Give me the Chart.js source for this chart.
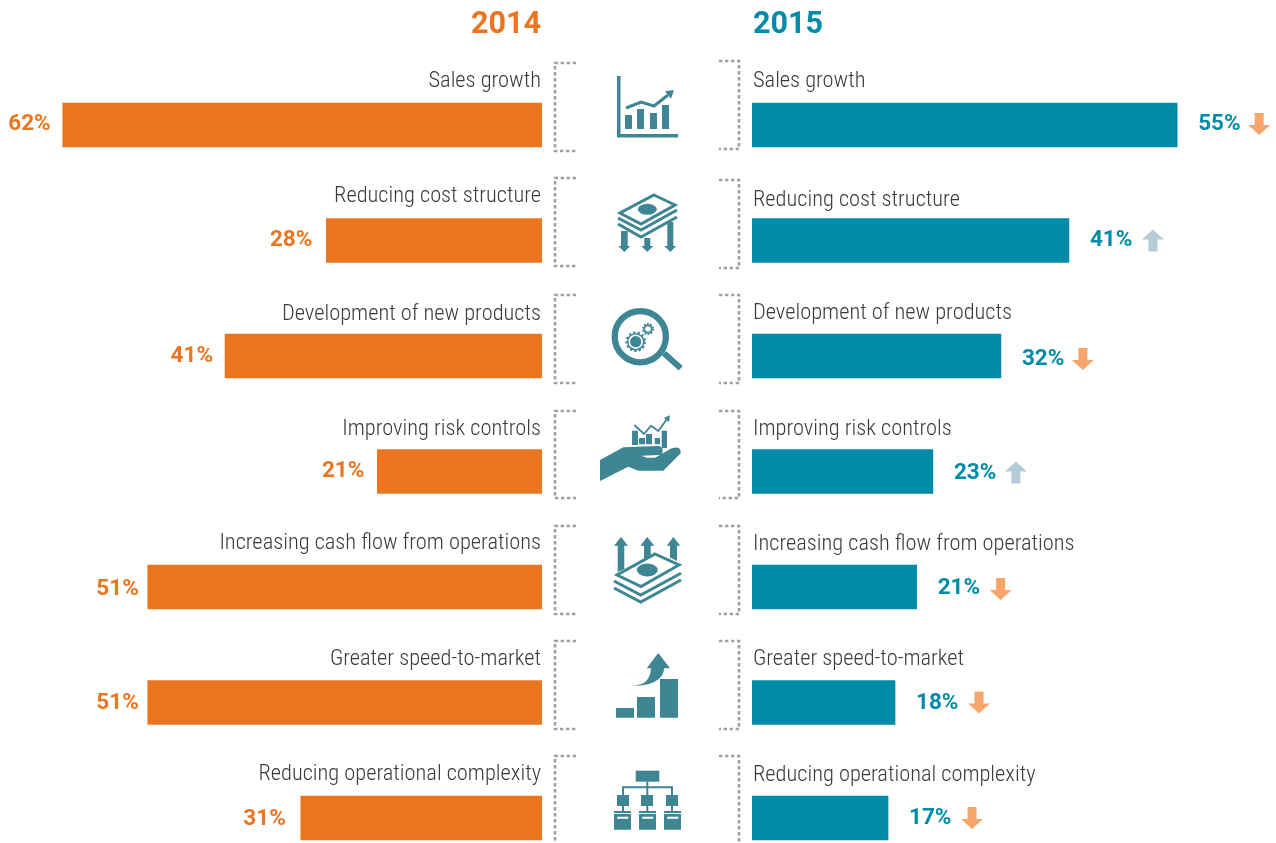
<!DOCTYPE html>
<html>
<head>
<meta charset="utf-8">
<title>Priorities 2014 vs 2015</title>
<script src="https://cdn.jsdelivr.net/npm/chart.js@4/dist/chart.umd.min.js"></script>
<style>
  html, body { margin: 0; padding: 0; background: #fff; overflow: hidden; }
  #page { position: relative; width: 1276px; height: 843px; overflow: hidden; }
  canvas { position: absolute; top: 0; }
  #chart2014 { left: 0; }
  #chart2015 { left: 752px; }
  #icons { position: absolute; left: 0; top: 0; }
  #icons .teal { fill: #3e8694; }
  #icons .line { fill: none; stroke: #3e8694; }
  #icons .white { fill: #fff; }
  #icons .bracket { fill: none; stroke: #a0a0a0; stroke-width: 2.6; stroke-dasharray: 3.4 2.6; }
</style>
</head>
<body>
<div id="page">
  <canvas id="chart2014" width="542" height="843"></canvas>
  <canvas id="chart2015" width="524" height="843"></canvas>

  <svg id="icons" width="1276" height="843" viewBox="0 0 1276 843">
    <!-- dotted brackets -->
    <path class="bracket" d="M576 63H555V151H576M719 61H739V149H719"/>
    <path class="bracket" d="M576 178H555V266H576M719 180H739V268H719"/>
    <path class="bracket" d="M576 295H555V383H576M719 295H739V383H719"/>
    <path class="bracket" d="M576 411H555V498H576M719 411H739V498H719"/>
    <path class="bracket" d="M576 526H555V614H576M719 526H739V614H719"/>
    <path class="bracket" d="M576 641H555V729H576M719 641H739V729H719"/>
    <path class="bracket" d="M576 756H555V860M719 756H739V860"/>

    <!-- sales growth -->
    <path class="teal" d="M617 76h3.5v58H678v3.4H617z"/>
    <path class="teal" d="M625 115h7v14h-7zM637 109h7v20h-7zM650 113h7v16h-7zM662 105h7v24h-7z"/>
    <path class="line" stroke-width="3" d="M626 108L641 102L654 106L668 95"/>
    <path class="teal" d="M674 90L665 91.3L671 98.7z"/>

    <!-- reducing cost -->
    <path class="line" stroke-width="3" d="M654 195L675 205L641 224L620 213z"/>
    <ellipse class="teal" cx="647.3" cy="209.3" rx="9.5" ry="5.5"/>
    <path class="line" stroke-width="3" d="M618 218L641 230L677 210M618 224L641 237L677 217"/>
    <path class="teal" d="M621 231h6.7v15h2.6l-6 6l-6-6h2.7zM644.3 238h6v8h3l-6 6l-6-6h3zM667.3 222h6v24h3l-6 6l-6-6h3z"/>

    <!-- new products -->
    <circle class="line" cx="640.3" cy="336.7" r="25.6" stroke-width="6.3"/>
    <path class="line" stroke-width="6" d="M664 353.3L680.7 368.3"/>
    <circle class="teal" cx="635.7" cy="341.7" r="5.6"/>
    <circle class="line" cx="635.7" cy="341.7" r="8" stroke-width="1.6"/>
    <circle class="line" cx="635.7" cy="341.7" r="9.4" stroke-width="1.8" stroke-dasharray="2.4 2.2"/>
    <circle class="line" cx="648" cy="329" r="3.8" stroke-width="2"/>
    <circle class="line" cx="648" cy="329" r="5.4" stroke-width="1.4" stroke-dasharray="1.8 1.6"/>

    <!-- risk controls -->
    <path class="teal" d="M600 460L623.3 447.3L657.3 446Q662.7 446 662.7 450.5Q662.7 455 658.3 455L641.7 455.7L646.7 457.7L655 457.7L671.7 448.3L677 447.5Q681 448 680.7 453.3L663.3 470.7L638.3 470.7L628.3 466.7L600 481z"/>
    <path class="teal" d="M632 430.7h6V445h-6zM639 438h6v6.3h-6zM646 434h6v10.3h-6zM654.7 438h5.3v6.3h-5.3zM661.7 430.7h5.3V448h-5.3z"/>
    <path class="line" stroke-width="1.8" d="M634.3 425L644 434L651 425.7L658.3 431L667 419"/>
    <path class="teal" d="M670 415.3L664 417.7L669 422.3z"/>

    <!-- cash flow -->
    <path class="teal" d="M621 537l7 8.7h-3.7V569l-6.6 3V545.7H614zM647.3 537l7 8.7h-3.6V556l-6.7 2.5V545.7h-3.7zM673.3 537l7 8.7H677V561l-7-3.5V545.7h-3.3z"/>
    <path class="line" stroke-width="3" d="M655 554L679 565L641 586.5L617 575z"/>
    <ellipse class="teal" cx="647.3" cy="570" rx="10.5" ry="6.5"/>
    <path class="line" stroke-width="3" d="M614 581L640.7 595L681 573.3M614 588L640.7 602L681 580"/>

    <!-- speed to market -->
    <path class="teal" d="M616 708h18v9.7h-18zM637 697h18v20.7h-18zM660 679h18v38.7h-18z"/>
    <path class="teal" d="M658.3 653L670 668.3H664C664 680 650 687 629.3 685.7C645 686 650 680 651 668.3H646.7z"/>

    <!-- operational complexity -->
    <path class="teal" d="M635.7 770.7h23.6v11h-23.6z"/>
    <path class="line" stroke-width="2" d="M647.3 781.7V787.3M623 795V787.3H672V795M647.3 787.3V795M623 806V811M647.3 806V811M672 806V811"/>
    <path class="teal" d="M617 795h12v11h-12zM641 795h12v11h-12zM666 795h12v11h-12z"/>
    <path class="teal" d="M614 811h17v18.7h-17zM639 811h17v18.7h-17zM664 811h17v18.7h-17z"/>
    <path class="white" d="M614 813h17v1h-17zM639 813h17v1h-17zM664 813h17v1h-17zM617.3 816.7h11v2h-11zM642.3 816.7h11v2h-11zM667.3 816.7h11v2h-11z"/>
  </svg>
</div>

<script>
// ── Data ────────────────────────────────────────────
const categories = [
  'Sales growth',
  'Reducing cost structure',
  'Development of new products',
  'Improving risk controls',
  'Increasing cash flow from operations',
  'Greater speed-to-market',
  'Reducing operational complexity',
]
// bar lengths as measured; the printed labels are rounded and not always the same
const values2014 = [62, 27.9, 41, 21.3, 51, 51, 31.2]
const values2015 = [55, 41, 32.2, 23.4, 21.3, 18.5, 17.6]
const labels2014 = ['62%', '28%', '41%', '21%', '51%', '51%', '31%']
const labels2015 = ['55%', '41%', '32%', '23%', '21%', '18%', '17%']
const change2015 = ['down', 'up', 'down', 'up', 'down', 'down', 'down']

// ── Look ────────────────────────────────────────────
const ORANGE = '#ec7520'
const TEAL = '#008ba9'
const ARROW_DOWN = '#f7a66b'
const ARROW_UP = '#b5ccd7'
const LABEL_FONT = '300 22.4px "Liberation Sans Narrow", "Roboto Condensed", Roboto, sans-serif'
const VALUE_FONT = 'bold 22.5px Roboto, sans-serif'
const TITLE_FONT = 'bold 30.5px Roboto, sans-serif'
const PX_PER_POINT = 7.73

// the source layout is hand placed, so rows are not perfectly regular
const nudges = {
  left: {
    label: [1, 1, 3, 3, 1, 2, 1],
    value: [1, 2, 2, 2, 4, 3, 3],
    gap:   [12, 14, 12, 13, 9, 9, 15],
  },
  right: {
    label:    [1, 5, 2, 3, 2, 2, 2],
    value:    [1, 2, 5, 4, 3, 3, 2],
    arrow:    [-1, 0, 3, 1, 2, 0, 0],
    arrowGap: [82, 84, 82, 83, 84, 84, 84],
  },
}

function drawArrow(ctx, cx, cy, dir) {
  const s = dir === 'down' ? 1 : -1
  ctx.fillStyle = dir === 'down' ? ARROW_DOWN : ARROW_UP
  ctx.beginPath()
  ctx.moveTo(cx - 4.5, cy - 11 * s)
  ctx.lineTo(cx + 4.5, cy - 11 * s)
  ctx.lineTo(cx + 4.5, cy + 1 * s)
  ctx.lineTo(cx + 11, cy + 1 * s)
  ctx.lineTo(cx, cy + 11 * s)
  ctx.lineTo(cx - 11, cy + 1 * s)
  ctx.lineTo(cx - 4.5, cy + 1 * s)
  ctx.closePath()
  ctx.fill()
}

// Labels above the bars, value next to the bar end, year on top
function rowText(side, year, color, valueLabels) {
  return {
    id: 'rowText',
    afterDatasetsDraw(chart) {
      const { ctx, scales } = chart
      const left = side === 'left'
      const n = nudges[side]
      const textX = left ? chart.width - 1 : 1
      ctx.save()
      ctx.textBaseline = 'middle'
      ctx.textAlign = left ? 'right' : 'left'

      ctx.font = TITLE_FONT
      ctx.fillStyle = color
      ctx.fillText(year, textX, 25)

      chart.data.labels.forEach((label, i) => {
        const y = scales.y.getPixelForValue(i)
        const end = scales.x.getPixelForValue(chart.data.datasets[0].data[i])

        ctx.font = LABEL_FONT
        ctx.fillStyle = '#3a3a3a'
        ctx.fillText(label, textX, y - 45 + n.label[i])

        ctx.font = VALUE_FONT
        ctx.fillStyle = color
        if (left) {
          ctx.fillText(valueLabels[i], end - n.gap[i], y - 2 + n.value[i])
        } else {
          ctx.fillText(valueLabels[i], end + 21, y - 2 + n.value[i])
          drawArrow(ctx, end + n.arrowGap[i], y + n.arrow[i], change2015[i])
        }
      })
      ctx.restore()
    },
  }
}

function buildChart(id, values, valueLabels, side, year, color) {
  const canvas = document.getElementById(id)
  return new Chart(canvas, {
    type: 'bar',
    data: {
      labels: categories,
      datasets: [{
        data: values,
        backgroundColor: color,
        borderWidth: 0,
        barThickness: 44,
        clip: false,
      }],
    },
    options: {
      indexAxis: 'y',
      responsive: false,
      animation: false,
      devicePixelRatio: 1,
      layout: { padding: { top: 125, bottom: 25 } },
      plugins: { legend: { display: false }, tooltip: { enabled: false } },
      scales: {
        x: {
          display: false,
          reverse: side === 'left',
          min: 0,
          max: canvas.width / PX_PER_POINT,
        },
        y: { display: false, offset: false },
      },
    },
    plugins: [rowText(side, year, color, valueLabels)],
  })
}

buildChart('chart2014', values2014, labels2014, 'left', '2014', ORANGE)
buildChart('chart2015', values2015, labels2015, 'right', '2015', TEAL)
</script>
</body>
</html>
